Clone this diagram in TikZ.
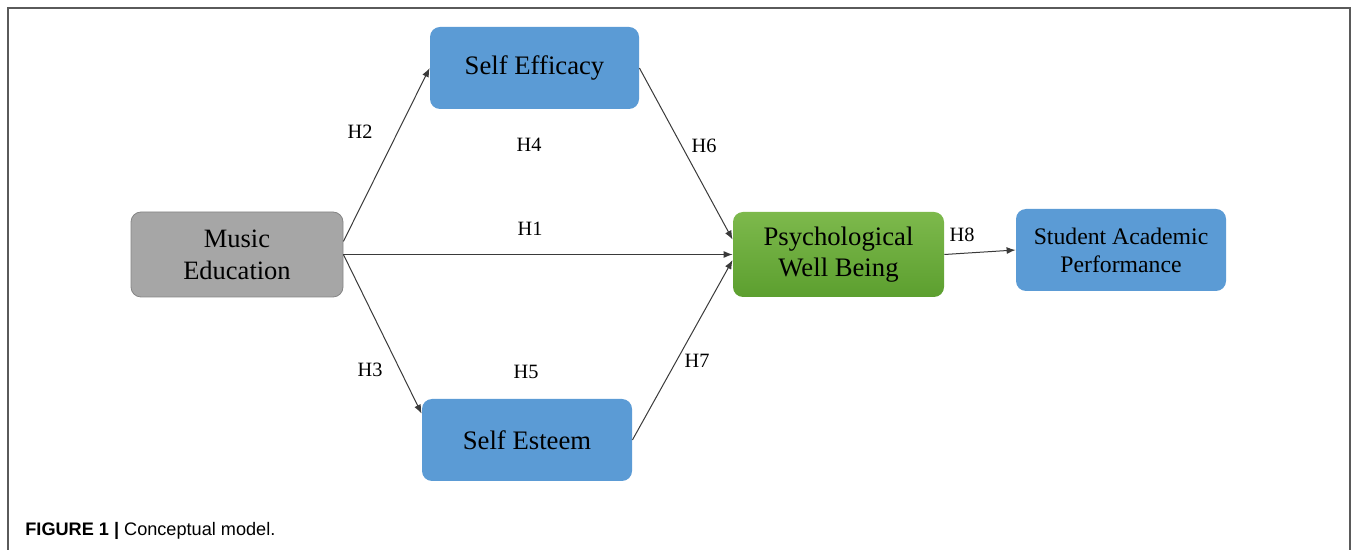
\documentclass[tikz,border=0pt]{standalone}
\usepackage{fontspec}
\setmainfont{Liberation Serif}
\newfontfamily\capfont{Liberation Sans}
\usepackage{tikz}
\usetikzlibrary{arrows,arrows.meta,shapes}
\definecolor{boxblue}{HTML}{5B9BD5}
\definecolor{boxgrey}{HTML}{A6A6A6}
\definecolor{greytrim}{HTML}{858585}
\definecolor{greentop}{HTML}{7DB94C}
\definecolor{greenbot}{HTML}{5C9F2F}
\definecolor{wire}{HTML}{3A3A3A}
\definecolor{frameline}{HTML}{5A5A5A}

\begin{document}
\begin{tikzpicture}[scale=1,
  construct/.style={rectangle,rounded corners=5bp,minimum width=105bp,minimum height=41bp,align=center,inner sep=2bp},
  hlabel/.style={font=\fontsize{10.2}{12}\selectfont},
  link/.style={-{Latex[length=4.5bp,width=3.5bp]},wire,line width=0.5bp}]
\useasboundingbox (0bp,0bp) rectangle (679bp,275bp);
\draw [frameline,line width=0.9pt] (4bp,0bp) -- (4bp,271bp) -- (675bp,271bp) -- (675bp,0bp);
\node (ME) at (118.5bp,147.75bp) [construct,draw=greytrim,fill=boxgrey,minimum height=42.5bp,minimum width=106bp,font=\fontsize{13.3}{16}\selectfont] {Music\\Education};
\node (SEF) at (267.25bp,241bp) [construct,fill=boxblue,minimum width=104.5bp,font=\fontsize{13.4}{16}\selectfont] {Self Efficacy};
\node (SES) at (263.5bp,55bp) [construct,fill=boxblue,font=\fontsize{13.4}{16}\selectfont] {Self Esteem};
\node (PWB) at (419.25bp,147.75bp) [construct,top color=greentop,bottom color=greenbot,minimum width=105.5bp,minimum height=42.5bp,font=\fontsize{13.4}{15.5}\selectfont] {Psychological\\Well Being};
\node (SAP) at (560.5bp,150bp) [construct,fill=boxblue,font=\fontsize{11.9}{14}\selectfont] {Student Academic\\Performance};
\draw [link] (ME.7) to (SEF.west);
\draw [link] (ME.east) to (PWB.west);
\draw [link] (ME.east) to (SES.166);
\draw [link] (SEF.east) to (PWB.172);
\draw [link] (SES.east) to (PWB.183);
\draw [link] (PWB.east) to (SAP.west);
\node (H1) at (265bp,160.5bp) [hlabel] {H1};
\node (H2) at (180bp,209bp) [hlabel] {H2};
\node (H3) at (185bp,90bp) [hlabel] {H3};
\node (H4) at (264.5bp,202.5bp) [hlabel] {H4};
\node (H5) at (263bp,89bp) [hlabel] {H5};
\node (H6) at (352bp,202bp) [hlabel] {H6};
\node (H7) at (348.5bp,94.5bp) [hlabel] {H7};
\node (H8) at (481bp,157.5bp) [hlabel] {H8};
\node (CAP) at (12.5bp,9.5bp) [anchor=west,inner sep=0pt,font=\capfont\fontsize{9.1}{11}\selectfont] {\textbf{FIGURE 1 |} Conceptual model.};
\end{tikzpicture}
\end{document}
